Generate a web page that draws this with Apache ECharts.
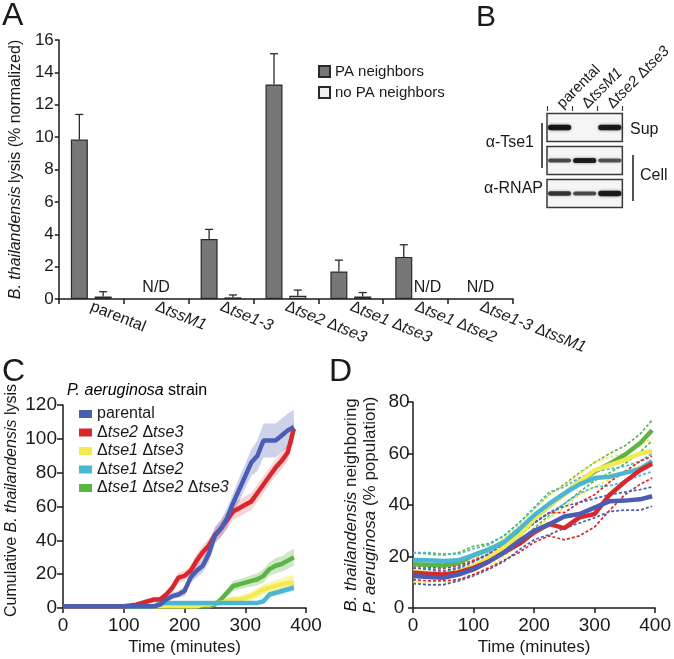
<!DOCTYPE html>
<html>
<head>
<meta charset="utf-8">
<script src="https://cdn.jsdelivr.net/npm/echarts@6/dist/echarts.min.js"></script>
<style>
  html, body { margin: 0; padding: 0; background: #fff; }
  #chart { width: 674px; height: 659px; }
</style>
</head>
<body>
<div id="chart"></div>
<script>
// ---- panel A: lysis per strain ----
var lysisStrains = ['parental', 'ΔtssM1', 'Δtse1-3', 'Δtse2 Δtse3', 'Δtse1 Δtse3', 'Δtse1 Δtse2', 'Δtse1-3 ΔtssM1'];
var paNeighbors = [9.85, null, 3.7, 13.25, 1.7, 2.6, null];
var paNeighborsErr = [1.55, null, 0.6, 1.9, 0.7, 0.75, null];
var noPaNeighbors = [0.15, null, 0.1, 0.2, 0.15, null, null];
var noPaNeighborsErr = [0.3, null, 0.15, 0.35, 0.25, null, null];
var notDetermined = [[1, 0], [5, 1], [6, 0]]; // [strain index, bar slot]
var lysisTicks = [0, 2, 4, 6, 8, 10, 12, 14, 16];

// ---- panel B: western blot ----
var blotLanes = ['parental', 'ΔtssM1', 'Δtse2 Δtse3'];
var blotRows = ['Sup', 'Cell', 'RNAP'];
var tse1Sup = [1.0, 0, 0.95];
var tse1Cell = [0.6, 0.9, 0.55];
var rnapCell = [0.75, 0.6, 0.95];

// ---- panel C: cumulative lysis ----
var strainNames = ['parental', 'Δtse2 Δtse3', 'Δtse1 Δtse3', 'Δtse1 Δtse2', 'Δtse1 Δtse2 Δtse3'];
var cumTime = [0, 10, 20, 30, 40, 50, 60, 70, 80, 90, 100, 110, 120, 130, 140, 150, 160, 170, 180, 190,
  200, 210, 220, 230, 240, 250, 260, 270, 280, 290, 300, 310, 320, 330, 340, 350, 360, 370, 380];
var cumParental = [1, 1, 1, 1, 1, 1, 1, 1, 1, 1, 1, 1, 1, 1, 1, 1, 2, 5, 7, 8,
  10, 18, 22, 25, 32, 43, 47, 53, 62, 70, 78, 86, 90, 99, 99, 99, 102, 105, 107];
var cumParentalSd = [0, 0, 0, 0, 0, 0, 0, 0, 0, 0, 0, 0, 0, 0, 0, 0, 0, 1.5, 2, 2,
  3, 3, 4, 4, 5, 5, 5, 6, 6, 7, 7, 8, 9, 10, 10, 10, 10, 10, 10];
var cumTse2Tse3 = [1, 1, 1, 1, 1, 1, 1, 1, 1, 1, 1, 1.5, 2, 3, 4, 5, 5, 8, 12, 18,
  19, 22, 28, 33, 37, 43, 47, 52, 57, 59, 61, 63, 68, 73, 78, 83, 87, 92, 106];
var cumTse2Tse3Sd = [0, 0, 0, 0, 0, 0, 0, 0, 0, 0, 0, 0.5, 1, 1, 1.5, 1.5, 2, 2, 2.5, 3,
  3, 3, 4, 4, 4, 4, 5, 5, 5, 5, 5, 5, 5, 5, 5, 5, 5, 5, 5];
var cumTse1Tse3 = [1, 1, 1, 1, 1, 1, 1, 1, 1, 1, 1, 1, 1, 1, 1, 1, 1, 1, 1, 1,
  1, 1, 1, 2, 2, 3, 3, 4, 5, 5, 6, 7, 9, 11, 12, 13, 14, 15, 15];
var cumTse1Tse3Sd = [0, 0, 0, 0, 0, 0, 0, 0, 0, 0, 0, 0, 0, 0, 0, 0, 0, 0, 0, 0,
  0, 0, 0, 1, 1, 1.5, 1.5, 2, 2, 2, 2.5, 2.5, 3, 3, 3, 3.5, 3.5, 4, 4];
var cumTse1Tse2 = [1, 1, 1, 1, 1, 1, 1, 1, 1, 1, 1, 1, 1, 1, 1, 1, 3, 3, 3, 3,
  3, 3, 3, 3, 3, 3, 3, 3, 3, 3, 3, 3, 3, 4, 8, 9, 10, 11, 12];
var cumTse1Tse2Sd = [0, 0, 0, 0, 0, 0, 0, 0, 0, 0, 0, 0, 0, 0, 0, 0, 0.8, 0.8, 0.8, 0.8,
  0.8, 0.8, 0.8, 0.8, 0.8, 0.8, 0.8, 0.8, 0.8, 0.8, 0.8, 0.8, 0.8, 1, 1.5, 1.5, 2, 2, 2];
var cumTse1Tse2Tse3 = [1, 1, 1, 1, 1, 1, 1, 1, 1, 1, 1, 1, 1, 1, 1, 1, 1, 1, 1, 1,
  1, 1, 1, 1, 1, 2, 5, 9, 13, 14, 15, 16, 17, 19, 23, 25, 26, 28, 30];
var cumTse1Tse2Tse3Sd = [0, 0, 0, 0, 0, 0, 0, 0, 0, 0, 0, 0, 0, 0, 0, 0, 0, 0, 0, 0,
  0, 0, 0, 0, 0, 1, 2, 2, 3, 3, 3, 3.5, 3.5, 4, 4, 4.5, 4.5, 5, 5];
var timeTicks = [0, 100, 200, 300, 400];
var cumTicks = [0, 20, 40, 60, 80, 100, 120];

// ---- panel D: % neighbouring ----
var nbTime = [0, 25, 50, 75, 100, 125, 150, 175, 200, 225, 250, 275, 300, 325, 350, 375, 395];
var nbParental = [12.4, 12, 11.7, 13, 15, 18, 21.5, 26, 30, 32.5, 35.5, 36.5, 39, 41.5, 41.7, 42.2, 43.4];
var nbParentalHi = [15.5, 15, 14.5, 15.5, 18, 21, 25, 29, 33, 37, 39.5, 41, 42.5, 44, 45, 46, 47];
var nbParentalLo = [9.5, 9, 9, 10.5, 12.5, 15, 18, 22.5, 26.5, 28.5, 31, 33, 35, 37.5, 38, 38, 39.5];
var nbTse2Tse3 = [13.7, 13.3, 13, 13.8, 15.6, 18, 21.5, 24.8, 29.3, 32.6, 31, 35.2, 36.5, 44, 49, 53.5, 56];
var nbTse2Tse3Hi = [16.5, 16, 15.5, 16.5, 18.5, 21, 24.5, 28, 33, 37, 37, 41, 44, 49, 53, 57, 59];
var nbTse2Tse3Lo = [11, 10.5, 10.5, 11, 13, 15.5, 18.5, 21.5, 25.5, 28, 26.5, 28, 31.5, 38, 44, 48, 50.5];
var nbTse1Tse3 = [14.3, 13.5, 13, 14, 16.3, 19.5, 23.5, 28, 34.6, 40, 44, 49, 53.5, 55.5, 57.5, 60, 61];
var nbTse1Tse3Hi = [16.5, 16, 15.5, 16.5, 19, 22.5, 27, 32, 38.5, 44, 47.5, 52, 57, 58.5, 60, 63, 66];
var nbTse1Tse3Lo = [10, 9.5, 9.5, 10.5, 13, 16, 20, 24.5, 30, 35, 39, 44, 47, 50, 53, 55, 57];
var nbTse1Tse2 = [18.6, 18.5, 18.3, 18.5, 20.5, 22.5, 25.5, 30.5, 36, 40.5, 44.5, 48, 50.5, 51, 52.5, 54, 57];
var nbTse1Tse2Hi = [21.5, 21.5, 21, 21, 23, 24.5, 28, 33, 39, 45, 47, 50.5, 53, 54, 55, 57, 60];
var nbTse1Tse2Lo = [16, 15.5, 15.5, 16, 18, 20.5, 23.5, 28, 33, 37, 40.5, 44.5, 47, 47.5, 49, 51.5, 53];
var nbTse1Tse2Tse3 = [17, 16.8, 16.5, 17.5, 20.5, 22.8, 25.4, 29.3, 34.6, 39.8, 44.3, 49, 53, 56, 59.5, 64, 69];
var nbTse1Tse2Tse3Hi = [21.5, 21, 20.5, 21.5, 24, 25, 28, 33, 38.5, 44, 48, 52.5, 56.5, 60, 63, 67.5, 73];
var nbTse1Tse2Tse3Lo = [14.5, 14, 14, 15, 17, 19.5, 22.5, 26, 31, 36, 40.5, 45, 49.5, 52.5, 56, 60.5, 65];
var nbTicks = [0, 20, 40, 60, 80];

var FONT = '"Liberation Sans", Arial, Helvetica, sans-serif';
var INK = '#1a1a1a';
var strainColors = ['#4b5db3', '#d8272d', '#f2ea4e', '#4bb6d3', '#5cb447'];
var bandColors = ['rgba(75,93,179,0.28)', 'rgba(216,39,45,0.2)', 'rgba(242,234,78,0.45)',
  'rgba(75,182,211,0.3)', 'rgba(92,180,71,0.3)'];
var BAR_W = 17, BAR_OFFSET = 11.9;

function richSet(size, lh) {
  var base = { fontSize: size, fontFamily: FONT, color: INK };
  if (lh) base.lineHeight = lh;
  return { n: base, i: Object.assign({}, base, { fontStyle: 'italic' }) };
}
function geneText(name) {
  return name.split(' ').map(function (p) {
    return p.charAt(0) === 'Δ' ? '{n|Δ}{i|' + p.slice(1) + '}' : '{n|' + p + '}';
  }).join('{n| }');
}
function pairs(xs, ys) {
  return xs.map(function (x, i) { return [x, ys[i]]; });
}
function axisLine() { return { show: true, lineStyle: { color: INK, width: 1.5 } }; }
function axisTick(len) { return { show: true, length: len, lineStyle: { color: INK, width: 1.5 } }; }

var myChart = echarts.init(document.getElementById('chart'), null, { renderer: 'canvas' });

// error bar drawing, slot -1 = left bar, +1 = right bar
function errorBar(slot) {
  return function (params, api) {
    var base = api.coord([api.value(0), api.value(1)]);
    var top = api.coord([api.value(0), api.value(1) + api.value(2)]);
    var x = base[0] + slot * BAR_OFFSET;
    var st = { stroke: '#2a2a2a', lineWidth: 1.3 };
    return {
      type: 'group', children: [
        { type: 'line', shape: { x1: x, y1: base[1], x2: x, y2: top[1] }, style: st },
        { type: 'line', shape: { x1: x - 4, y1: top[1], x2: x + 4, y2: top[1] }, style: st }
      ]
    };
  };
}
function errData(vals, errs) {
  var out = [];
  vals.forEach(function (v, i) { if (v != null) out.push([i, v, errs[i]]); });
  return out;
}

var series = [
  {
    name: 'PA neighbors', type: 'bar', xAxisIndex: 0, yAxisIndex: 0,
    data: paNeighbors, barWidth: BAR_W, barGap: '40%',
    itemStyle: { color: '#777777', borderColor: '#2a2a2a', borderWidth: 1.2 }
  },
  {
    name: 'no PA neighbors', type: 'bar', xAxisIndex: 0, yAxisIndex: 0,
    data: noPaNeighbors, barWidth: BAR_W, barGap: '40%',
    itemStyle: { color: '#eeeeee', borderColor: '#2a2a2a', borderWidth: 1.2 }
  },
  {
    type: 'custom', xAxisIndex: 0, yAxisIndex: 0, silent: true, z: 3,
    renderItem: errorBar(-1), data: errData(paNeighbors, paNeighborsErr)
  },
  {
    type: 'custom', xAxisIndex: 0, yAxisIndex: 0, silent: true, z: 3,
    renderItem: errorBar(1), data: errData(noPaNeighbors, noPaNeighborsErr)
  },
  {
    type: 'custom', xAxisIndex: 0, yAxisIndex: 0, silent: true,
    data: notDetermined,
    renderItem: function (params, api) {
      var c = api.coord([api.value(0), 0]);
      return {
        type: 'text', x: c[0] + api.value(1) * BAR_OFFSET, y: c[1] - 3,
        style: { text: 'N/D', fontSize: 16, fontFamily: FONT, fill: INK, align: 'center', verticalAlign: 'bottom' }
      };
    }
  },
  // blot boxes
  {
    type: 'custom', xAxisIndex: 1, yAxisIndex: 1, silent: true, z: 1,
    data: blotRows.map(function (r, i) { return [1, i]; }),
    renderItem: function (params, api) {
      var c = api.coord([api.value(0), api.value(1)]);
      var s = api.size([1, 1]);
      return {
        type: 'rect',
        shape: { x: c[0] - 1.5 * s[0], y: c[1] - (s[1] - 5) / 2, width: 3 * s[0], height: s[1] - 5 },
        style: { fill: '#f5f5f5', stroke: '#3a3a3a', lineWidth: 1.5 }
      };
    }
  },
  // blot bands
  {
    type: 'custom', xAxisIndex: 1, yAxisIndex: 1, silent: true, z: 2,
    data: [tse1Sup, tse1Cell, rnapCell].reduce(function (acc, row, r) {
      row.forEach(function (k, l) { acc.push([l, r, k]); });
      return acc;
    }, []),
    renderItem: function (params, api) {
      var k = api.value(2);
      if (!k) return;
      var c = api.coord([api.value(0), api.value(1)]);
      var s = api.size([1, 1]);
      var h = 2 + 3.5 * k;
      return {
        type: 'rect',
        shape: { x: c[0] - s[0] / 2 + 1, y: c[1] - h / 2, width: s[0] - 2, height: h, r: h / 2 },
        style: {
          fill: 'rgba(15,15,15,' + (0.3 + 0.65 * k) + ')',
          shadowBlur: 3, shadowColor: 'rgba(0,0,0,' + (0.6 * k) + ')'
        }
      };
    }
  }
];

// panel C: shaded spread, drawn as one polygon per strain
var cumMeans = [cumParental, cumTse2Tse3, cumTse1Tse3, cumTse1Tse2, cumTse1Tse2Tse3];
var cumSds = [cumParentalSd, cumTse2Tse3Sd, cumTse1Tse3Sd, cumTse1Tse2Sd, cumTse1Tse2Tse3Sd];
series.push({
  type: 'custom', xAxisIndex: 2, yAxisIndex: 2, silent: true, z: 1,
  data: [[0, 0], [1, 0], [2, 0], [3, 0], [4, 0]],
  renderItem: function (params, api) {
    var k = params.dataIndex;
    var m = cumMeans[k], sd = cumSds[k];
    var up = [], lo = [];
    cumTime.forEach(function (t, i) {
      up.push(api.coord([t, m[i] + sd[i]]));
      lo.unshift(api.coord([t, Math.max(0, m[i] - sd[i])]));
    });
    return { type: 'polygon', shape: { points: up.concat(lo) }, style: { fill: bandColors[k] } };
  }
});
[4, 2, 3, 1, 0].forEach(function (k) {
  series.push({
    name: strainNames[k], type: 'line', xAxisIndex: 2, yAxisIndex: 2, symbol: 'none',
    color: strainColors[k], lineStyle: { width: 4.5, color: strainColors[k] }, z: 3,
    data: pairs(cumTime, cumMeans[k])
  });
});

// panel D
var nbMeans = [nbParental, nbTse2Tse3, nbTse1Tse3, nbTse1Tse2, nbTse1Tse2Tse3];
var nbHis = [nbParentalHi, nbTse2Tse3Hi, nbTse1Tse3Hi, nbTse1Tse2Hi, nbTse1Tse2Tse3Hi];
var nbLos = [nbParentalLo, nbTse2Tse3Lo, nbTse1Tse3Lo, nbTse1Tse2Lo, nbTse1Tse2Tse3Lo];
[4, 2, 3, 1, 0].forEach(function (k) {
  [nbHis[k], nbLos[k]].forEach(function (arr) {
    series.push({
      type: 'line', xAxisIndex: 3, yAxisIndex: 3, symbol: 'none', silent: true, z: 2,
      lineStyle: { width: 1.7, color: strainColors[k], type: [3, 2] },
      data: pairs(nbTime, arr)
    });
  });
});
[4, 2, 3, 1, 0].forEach(function (k) {
  series.push({
    type: 'line', xAxisIndex: 3, yAxisIndex: 3, symbol: 'none', silent: true, z: 3,
    lineStyle: { width: 4.5, color: strainColors[k] },
    data: pairs(nbTime, nbMeans[k])
  });
});

var option = {
  animation: false,
  textStyle: { fontFamily: FONT },
  grid: [
    { left: 54, top: 40, width: 459, height: 259 },
    { left: 547, top: 111, width: 78, height: 99 },
    { left: 63, top: 405, width: 243, height: 203 },
    { left: 413, top: 402, width: 244, height: 206 }
  ],
  legend: [
    {
      data: ['PA neighbors', 'no PA neighbors'], orient: 'vertical', left: 313, top: 59,
      itemWidth: 11, itemHeight: 11, itemGap: 6, icon: 'rect', selectedMode: false,
      textStyle: { fontSize: 15, fontFamily: FONT, color: INK }
    },
    {
      data: strainNames, orient: 'vertical', left: 74, top: 401,
      itemWidth: 13, itemHeight: 8, itemGap: 2.5, icon: 'rect', selectedMode: false,
      formatter: geneText, textStyle: { rich: richSet(16, 16) }
    }
  ],
  xAxis: [
    {
      type: 'category', gridIndex: 0, data: lysisStrains,
      axisLine: axisLine(), axisTick: axisTick(5),
      axisLabel: { interval: 0, rotate: -22, margin: 7, formatter: geneText, rich: richSet(16) }
    },
    {
      type: 'category', gridIndex: 1, data: blotLanes, position: 'top',
      axisLine: { show: false }, axisTick: { show: true, length: 5, lineStyle: { color: '#3a3a3a', width: 1.2 } },
      axisLabel: {
        interval: 0, rotate: -45, margin: 5, align: 'left', verticalAlign: 'middle',
        formatter: geneText, rich: richSet(15)
      }
    },
    {
      type: 'value', gridIndex: 2, min: timeTicks[0], max: timeTicks[timeTicks.length - 1],
      interval: timeTicks[1] - timeTicks[0], splitLine: { show: false },
      axisLine: axisLine(), axisTick: axisTick(5),
      axisLabel: { color: INK, fontSize: 19, fontFamily: FONT, margin: 8 },
      name: 'Time (minutes)', nameLocation: 'middle', nameGap: 31,
      nameTextStyle: { fontSize: 17, fontFamily: FONT, color: INK }
    },
    {
      type: 'value', gridIndex: 3, min: timeTicks[0], max: timeTicks[timeTicks.length - 1],
      interval: timeTicks[1] - timeTicks[0], splitLine: { show: false },
      axisLine: axisLine(), axisTick: axisTick(5),
      axisLabel: { color: INK, fontSize: 19, fontFamily: FONT, margin: 8 },
      name: 'Time (minutes)', nameLocation: 'middle', nameGap: 31,
      nameTextStyle: { fontSize: 17, fontFamily: FONT, color: INK }
    }
  ],
  yAxis: [
    {
      type: 'value', gridIndex: 0, min: lysisTicks[0], max: lysisTicks[lysisTicks.length - 1],
      interval: lysisTicks[1] - lysisTicks[0], splitLine: { show: false },
      axisLine: axisLine(), axisTick: axisTick(4),
      axisLabel: { color: INK, fontSize: 17, fontFamily: FONT, margin: 5 },
      name: '{i|B. thailandensis} {n|lysis (% normalized)}', nameLocation: 'middle', nameGap: 30,
      nameTextStyle: { rich: richSet(16) }
    },
    {
      type: 'category', gridIndex: 1, data: blotRows, inverse: true,
      axisLine: { show: false }, axisTick: { show: false }, axisLabel: { show: false }
    },
    {
      type: 'value', gridIndex: 2, min: cumTicks[0], max: cumTicks[cumTicks.length - 1],
      interval: cumTicks[1] - cumTicks[0], splitLine: { show: false },
      axisLine: axisLine(), axisTick: axisTick(6),
      axisLabel: { color: INK, fontSize: 19, fontFamily: FONT, margin: 6 },
      name: '{n|Cumulative }{i|B. thailandensis}{n| lysis}', nameLocation: 'middle', nameGap: 43,
      nameTextStyle: { rich: richSet(16), padding: [0, 0, 0, 12] }
    },
    {
      type: 'value', gridIndex: 3, min: nbTicks[0], max: nbTicks[nbTicks.length - 1],
      interval: nbTicks[1] - nbTicks[0], splitLine: { show: false },
      axisLine: axisLine(), axisTick: axisTick(5),
      axisLabel: { color: INK, fontSize: 19, fontFamily: FONT, margin: 14, align: 'center' },
      name: '{i|B. thailandensis}{n| neighboring}\n{i|P. aeruginosa}{n| (% population)}',
      nameLocation: 'middle', nameGap: 33,
      nameTextStyle: { rich: richSet(17, 19) }
    }
  ],
  graphic: [
    { type: 'text', left: 2, top: 0, style: { text: 'A', fontSize: 32, fontFamily: FONT, fill: INK } },
    { type: 'text', left: 476, top: 3, style: { text: 'B', fontSize: 30, fontFamily: FONT, fill: INK } },
    { type: 'text', left: 2, top: 356, style: { text: 'C', fontSize: 32, fontFamily: FONT, fill: INK } },
    { type: 'text', left: 329, top: 356, style: { text: 'D', fontSize: 32, fontFamily: FONT, fill: INK } },
    {
      type: 'text', left: 67, top: 383,
      style: { text: '{i|P. aeruginosa}{n| strain}', rich: richSet(16) }
    },
    { type: 'text', right: 674 - 534, top: 135, style: { text: 'α-Tse1', fontSize: 16, fontFamily: FONT, fill: INK } },
    { type: 'text', right: 674 - 543, top: 181, style: { text: 'α-RNAP', fontSize: 16, fontFamily: FONT, fill: INK } },
    { type: 'text', left: 630, top: 122, style: { text: 'Sup', fontSize: 16, fontFamily: FONT, fill: INK } },
    { type: 'text', left: 640, top: 168, style: { text: 'Cell', fontSize: 16, fontFamily: FONT, fill: INK } },
    { type: 'line', shape: { x1: 542, y1: 123, x2: 542, y2: 168 }, style: { stroke: INK, lineWidth: 1.5 } },
    { type: 'line', shape: { x1: 633, y1: 155, x2: 633, y2: 201 }, style: { stroke: INK, lineWidth: 1.5 } }
  ],
  series: series
};

myChart.setOption(option);
</script>
</body>
</html>
